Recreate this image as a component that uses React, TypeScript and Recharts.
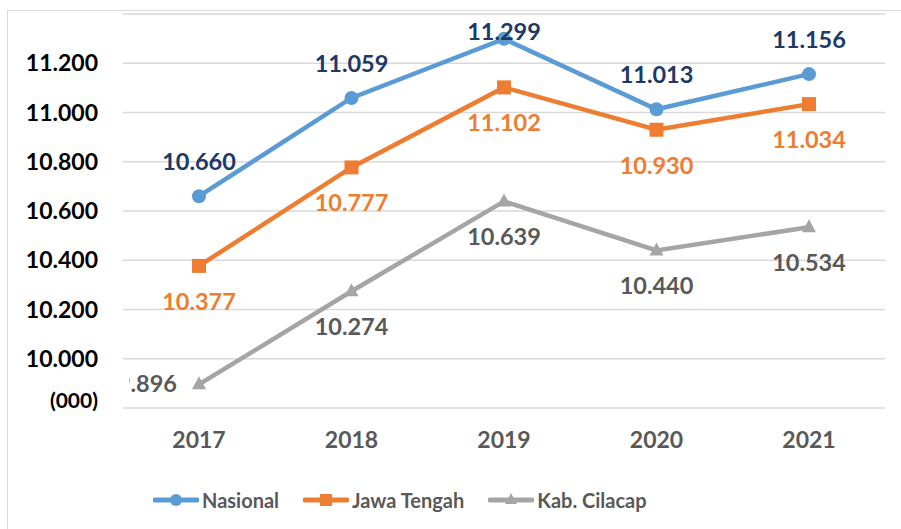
import { LineChart, Line, XAxis, YAxis, CartesianGrid, LabelList, Legend } from 'recharts';

const years = ['2017', '2018', '2019', '2020', '2021'];
const nasional = [10660, 11059, 11299, 11013, 11156];
const jawaTengah = [10377, 10777, 11102, 10930, 11034];
const cilacap = [9896, 10274, 10639, 10440, 10534];
const yTicks = [9800, 10000, 10200, 10400, 10600, 10800, 11000, 11200];

const BLUE = '#5B9BD5';
const ORANGE = '#ED7D31';
const GRAY = '#A5A5A5';
const NAVY = '#203864';
const DARK = '#595959';
const FONT = 'Lato, "Open Sans", sans-serif';

const data = years.map((t, i) => ({ t, nasional: nasional[i], jawa: jawaTengah[i], cilacap: cilacap[i] }));

const fmt = (v: number) => (v / 1000).toFixed(3);

// the lowest tick is shown as the unit note "(000)", a little above its gridline
const YTick = ({ x, y, payload }: any) => {
  const unit = payload.value === 9800;
  return (
    <text x={x} y={y + (unit ? 0 : 8)} textAnchor="end" fontFamily={FONT} fontWeight={700} fontSize={unit ? 21 : 23} fill="#000">
      {unit ? '(000)' : fmt(payload.value)}
    </text>
  );
};

const XTick = ({ x, y, payload }: any) => (
  <text x={x} y={y + 40} textAnchor="middle" fontFamily={FONT} fontWeight={700} fontSize={23} fill={DARK}>
    {payload.value}
  </text>
);

const labelText = (x: number, cy: number, v: number, color: string) => (
  <text x={x} y={cy + 8} textAnchor="middle" fontFamily={FONT} fontWeight={700} fontSize={23.5} fill={color}>
    {fmt(v)}
  </text>
);

const NasLabel = ({ x, y, value }: any) => labelText(x, Math.max(y - 34, 32), value, NAVY);
const JawaLabel = ({ x, y, value }: any) => labelText(x, y + 36, value, ORANGE);
const CilLabel = ({ x, y, value, index }: any) => {
  if (index === 0) {
    return (
      <g>
        <defs>
          <clipPath id="cil-first">
            <rect x={x - 70} y={y - 30} width={80} height={60} />
          </clipPath>
        </defs>
        <text x={x - 22} y={y + 8} textAnchor="end" fontFamily={FONT} fontWeight={700} fontSize={23.5} fill={DARK} clipPath="url(#cil-first)">
          {fmt(value)}
        </text>
      </g>
    );
  }
  return labelText(x, y + 36, value, DARK);
};

const SquareDot = ({ cx, cy }: any) => <rect x={cx - 7} y={cy - 7} width={14} height={14} fill={ORANGE} />;
const TriDot = ({ cx, cy }: any) => (
  <polygon points={`${cx},${cy - 8} ${cx + 7},${cy + 5} ${cx - 7},${cy + 5}`} fill={GRAY} />
);

const legendItems = [
  { name: 'Nasional', color: BLUE, shape: 'circle' },
  { name: 'Jawa Tengah', color: ORANGE, shape: 'square' },
  { name: 'Kab. Cilacap', color: GRAY, shape: 'tri' },
];

const LegendContent = () => (
  <div style={{ display: 'flex', alignItems: 'center', height: 40, fontFamily: FONT, fontWeight: 700, fontSize: 20, color: DARK }}>
    {legendItems.map((it, i) => (
      <div key={it.name} style={{ display: 'flex', alignItems: 'center', marginRight: i < 2 ? 24 : 0 }}>
        <svg width={46} height={20} style={{ marginRight: 3 }}>
          <line x1={2} y1={10} x2={44} y2={10} stroke={it.color} strokeWidth={5} strokeLinecap="round" />
          {it.shape === 'circle' && <circle cx={23} cy={10} r={6} fill={it.color} />}
          {it.shape === 'square' && <rect x={17} y={4} width={12} height={12} fill={it.color} />}
          {it.shape === 'tri' && <polygon points="23,3 29,14 17,14" fill={it.color} />}
        </svg>
        <span>{it.name}</span>
      </div>
    ))}
  </div>
);

export default function App() {
  return (
    <div style={{ position: 'absolute', left: 0, top: 0, width: 901, height: 529, background: '#fff' }}>
      <div style={{ position: 'absolute', left: 7, top: 10, width: 900, height: 525, border: '1.5px solid #D9D9D9' }} />
      <LineChart width={901} height={529} data={data} margin={{ top: 14, right: 16, left: 23, bottom: 41 }}>
        <CartesianGrid vertical={false} stroke="#D9D9D9" strokeWidth={1.5} />
        <XAxis
          dataKey="t"
          axisLine={false}
          tickLine={false}
          tickSize={0}
          tickMargin={0}
          height={40}
          padding={{ left: 76, right: 76 }}
          tick={<XTick />}
        />
        <YAxis
          domain={[9800, 11400]}
          ticks={yTicks}
          axisLine={false}
          tickLine={false}
          tickSize={0}
          tickMargin={25}
          width={100}
          tick={<YTick />}
        />
        <Legend
          verticalAlign="bottom"
          height={40}
          content={<LegendContent />}
          wrapperStyle={{ left: 153, bottom: 9, width: 'auto' }}
        />
        <Line dataKey="cilacap" stroke={GRAY} strokeWidth={4.5} dot={<TriDot />} isAnimationActive={false}>
          <LabelList dataKey="cilacap" content={<CilLabel />} />
        </Line>
        <Line dataKey="jawa" stroke={ORANGE} strokeWidth={4.5} dot={<SquareDot />} isAnimationActive={false}>
          <LabelList dataKey="jawa" content={<JawaLabel />} />
        </Line>
        <Line dataKey="nasional" stroke={BLUE} strokeWidth={4.5} dot={{ r: 7, fill: BLUE, stroke: BLUE, strokeWidth: 0 }} isAnimationActive={false}>
          <LabelList dataKey="nasional" content={<NasLabel />} />
        </Line>
      </LineChart>
    </div>
  );
}
